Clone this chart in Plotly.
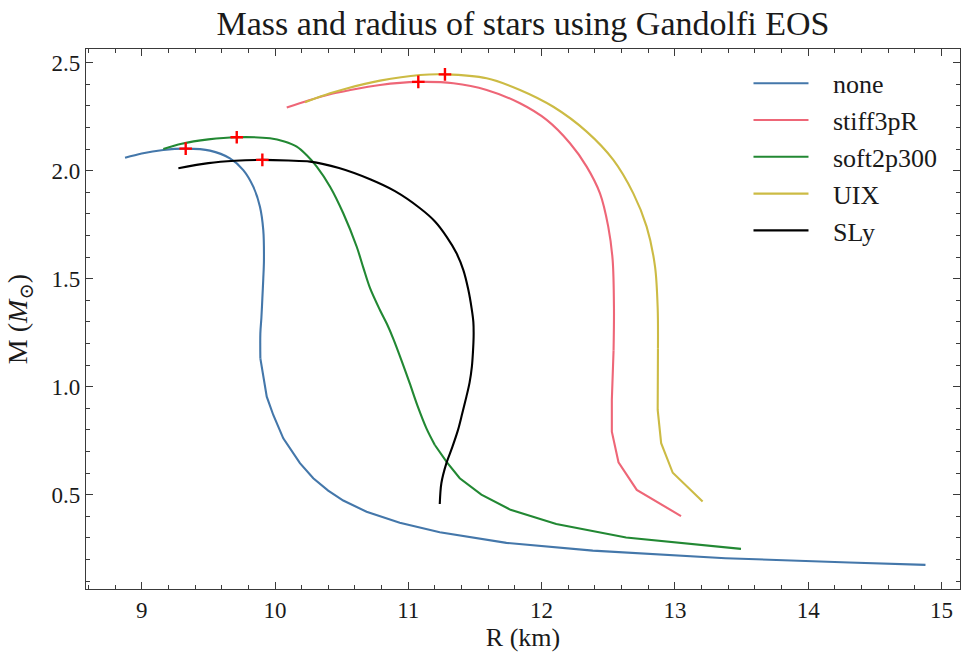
import plotly.graph_objects as go
import numpy as np

# ---- data (R in km, M in solar masses) ----
names = ["none", "stiff3pR", "soft2p300", "UIX", "SLy"]
colors = ["#4477AA", "#EE6677", "#228833", "#CCBB44", "#000000"]

none_R = [8.875, 9.0, 9.162, 9.33, 9.512, 9.662, 9.762, 9.837, 9.887, 9.912, 9.917, 9.912, 9.905,
          9.898, 9.89, 9.89, 9.938, 9.987, 10.062, 10.187, 10.287, 10.399, 10.512, 10.687, 10.936,
          11.236, 11.736, 12.384, 13.01, 13.38, 14.307, 14.88]
none_M = [2.060, 2.080, 2.096, 2.102, 2.093, 2.057, 2.003, 1.926, 1.833, 1.725, 1.587, 1.50, 1.409,
          1.32, 1.247, 1.131, 0.954, 0.869, 0.761, 0.646, 0.576, 0.519, 0.473, 0.421, 0.370,
          0.326, 0.277, 0.241, 0.218, 0.206, 0.186, 0.175]

stiff_R = [10.088, 10.25, 10.413, 10.538, 10.788, 11.075, 11.338, 11.588, 11.838, 12.038, 12.213,
           12.338, 12.438, 12.5, 12.533, 12.543, 12.54, 12.527, 12.527, 12.577, 12.714, 13.046]
stiff_M = [2.293, 2.325, 2.354, 2.370, 2.397, 2.411, 2.405, 2.374, 2.312, 2.235, 2.127,
           2.019, 1.895, 1.741, 1.587, 1.363, 1.169, 0.939, 0.792, 0.650, 0.522, 0.401]

soft_R = [9.162, 9.3, 9.5, 9.713, 9.962, 10.07, 10.163, 10.24, 10.313, 10.413, 10.512, 10.613,
          10.663, 10.713, 10.787, 10.84, 10.886, 10.95, 11.011, 11.07, 11.136, 11.199, 11.29,
          11.386, 11.548, 11.767, 12.11, 12.634, 13.496]
soft_M = [2.100, 2.125, 2.145, 2.155, 2.150, 2.135, 2.111, 2.070, 2.019, 1.926, 1.803, 1.648,
          1.55, 1.456, 1.355, 1.29, 1.224, 1.12, 1.015, 0.91, 0.807, 0.730, 0.65,
          0.576, 0.500, 0.430, 0.364, 0.302, 0.249]

uix_R = [10.225, 10.413, 10.538, 10.788, 11.088, 11.275, 11.588, 11.838, 12.088, 12.338, 12.538,
         12.688, 12.788, 12.851, 12.871, 12.873, 12.871, 12.897, 12.984, 13.208]
uix_M = [2.317, 2.358, 2.381, 2.417, 2.443, 2.446, 2.428, 2.374, 2.296, 2.181, 2.050,
         1.895, 1.741, 1.556, 1.363, 1.1775, 0.8925, 0.7385, 0.6015, 0.468]

sly_R = [9.275, 9.5, 9.7, 9.905, 10.1, 10.263, 10.48, 10.713, 10.9, 11.088, 11.2, 11.288, 11.36,
         11.413, 11.45, 11.475, 11.488, 11.49, 11.485, 11.477, 11.46, 11.436, 11.405, 11.373,
         11.33, 11.286, 11.248, 11.236]
sly_M = [2.011, 2.035, 2.046, 2.050, 2.047, 2.042, 2.012, 1.960, 1.905, 1.826, 1.765, 1.694, 1.62,
         1.540, 1.45, 1.363, 1.30, 1.232, 1.16, 1.093, 1.02, 0.954, 0.877, 0.800,
         0.72, 0.646, 0.553, 0.457]

x_ticks = [9, 10, 11, 12, 13, 14, 15]
y_ticks = [0.5, 1.0, 1.5, 2.0, 2.5]

series = [(none_R, none_M), (stiff_R, stiff_M), (soft_R, soft_M), (uix_R, uix_M), (sly_R, sly_M)]
# index where the coarsely sampled (straight-segment) low-mass part of each curve begins
coarse_from = [15, 16, 21, 15, None]

FONT = "Liberation Serif, DejaVu Serif, serif"
TXT = "#1a1a1a"
AX = "#3a3a3a"

fig = go.Figure()
for (R, M), name, col, k0 in zip(series, names, colors, coarse_from):
    end = len(R) if k0 is None else k0 + 1
    fig.add_trace(go.Scatter(x=R[:end], y=M[:end], mode="lines", name="\u00a0\u00a0\u00a0" + name,
                             line=dict(color=col, width=2.1, shape="spline", smoothing=0.9),
                             legendgroup=name))
    if k0 is not None:
        fig.add_trace(go.Scatter(x=R[k0:], y=M[k0:], mode="lines", showlegend=False,
                                 line=dict(color=col, width=2.1), legendgroup=name))

# maximum-mass markers
mx_R, mx_M = [], []
for R, M in series:
    k = int(np.argmax(M))
    mx_R.append(R[k]); mx_M.append(M[k])
fig.add_trace(go.Scatter(x=mx_R, y=mx_M, mode="markers", showlegend=False,
                         marker=dict(symbol="cross-thin", size=9, color="red",
                                     line=dict(color="red", width=2.4))))

axis_common = dict(showgrid=False, zeroline=False, showline=True, linecolor=AX, linewidth=1.4,
                   mirror="allticks", ticks="inside", ticklen=7, tickwidth=1.1, tickcolor=AX,
                   tickfont=dict(family=FONT, size=23, color=TXT))

fig.update_xaxes(range=[8.582, 15.139], tickvals=x_ticks, ticktext=[str(v) for v in x_ticks],
                 minor=dict(ticks="inside", ticklen=4, tickwidth=1, tickcolor=AX, dtick=0.2, tick0=9, showgrid=False),
                 title=dict(text="R (km)", font=dict(family=FONT, size=26, color=TXT), standoff=10),
                 **axis_common)
fig.update_yaxes(range=[0.0634, 2.5634], tickvals=y_ticks, ticktext=[f"{v:.1f}" for v in y_ticks],
                 minor=dict(ticks="inside", ticklen=4, tickwidth=1, tickcolor=AX, dtick=0.1, tick0=0, showgrid=False),
                 title=dict(text="M (<i>M</i><sub>⊙</sub>)", font=dict(family=FONT, size=28, color=TXT), standoff=15),
                 **axis_common)

fig.update_layout(
    width=961, height=652,
    margin=dict(l=86, r=1, t=49, b=63),
    paper_bgcolor="white", plot_bgcolor="white",
    title=dict(text="Mass and radius of stars using Gandolfi EOS", x=0.5, xref="paper", xanchor="center",
               y=1 - 23 / 652, yref="container", yanchor="middle",
               font=dict(family=FONT, size=34, color=TXT)),
    legend=dict(x=0.758, y=0.98, xanchor="left", yanchor="top", bgcolor="rgba(0,0,0,0)",
                font=dict(family=FONT, size=26, color=TXT), itemwidth=55,
                tracegroupgap=0, traceorder="grouped"),
    showlegend=True,
)

fig.write_html("out.html")
